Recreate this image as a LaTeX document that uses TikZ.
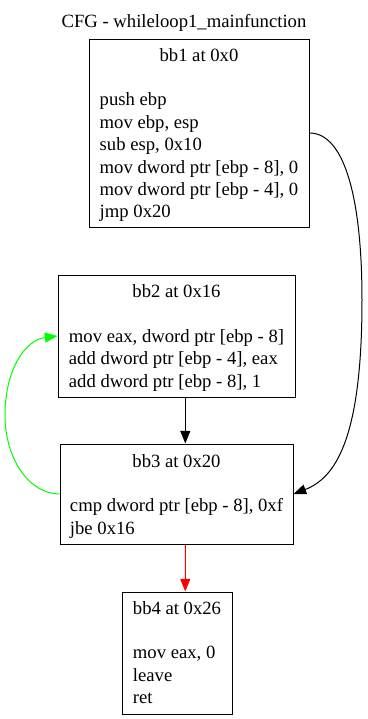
\documentclass[tikz,border=0pt]{standalone}
\usepackage{fontspec}
\setmainfont{Liberation Serif}
\usetikzlibrary{arrows.meta}
\begin{document}
\begin{tikzpicture}[x=0.75pt,y=-0.75pt,
  block/.style={draw=black, line width=0.75pt, rectangle, inner sep=0pt},
  blocktext/.style={anchor=base, inner sep=0pt, font=\fontsize{14}{16.8}\selectfont},
  edge/.style={line width=0.75pt, -{Triangle[length=9.5pt,width=7.5pt]}}]
\useasboundingbox (0,0) rectangle (368,719);

% graph title
\node[blocktext] (title) at (184,27) {CFG - whileloop1\_mainfunction};

% basic blocks
\node[block, minimum width=165pt, minimum height=141pt] (bb1) at (199,133) {};
\node[blocktext] (bb1text) at (199,61) {\begin{tabular}[t]{@{}l@{}}
  \multicolumn{1}{@{}c@{}}{bb1 at 0x0}\\ \\
  push ebp\\
  mov ebp, esp\\
  sub esp, 0x10\\
  mov dword ptr [ebp - 8], 0\\
  mov dword ptr [ebp - 4], 0\\
  jmp 0x20
\end{tabular}};

\node[block, minimum width=177.75pt, minimum height=91.5pt] (bb2) at (176.5,336) {};
\node[blocktext] (bb2text) at (176.5,297.5) {\begin{tabular}[t]{@{}l@{}}
  \multicolumn{1}{@{}c@{}}{bb2 at 0x16}\\ \\
  mov eax, dword ptr [ebp - 8]\\
  add dword ptr [ebp - 4], eax\\
  add dword ptr [ebp - 8], 1
\end{tabular}};

\node[block, minimum width=174.75pt, minimum height=75pt] (bb3) at (176.5,494) {};
\node[blocktext] (bb3text) at (176.5,467) {\begin{tabular}[t]{@{}l@{}}
  \multicolumn{1}{@{}c@{}}{bb3 at 0x20}\\ \\
  cmp dword ptr [ebp - 8], 0xf\\
  jbe 0x16
\end{tabular}};

\node[block, minimum width=82.5pt, minimum height=91.5pt] (bb4) at (177,653) {};
\node[blocktext] (bb4text) at (177,614) {\begin{tabular}[t]{@{}l@{}}
  \multicolumn{1}{@{}c@{}}{bb4 at 0x26}\\ \\
  mov eax, 0\\
  leave\\
  ret
\end{tabular}};

% control flow edges
\draw[edge] (bb1.east) .. controls (345,133) and (362,200) .. (362,300)
  .. controls (362,440) and (335,478) .. (bb3.east);
\draw[edge] ([xshift=6.6pt]bb2.south) -- ([xshift=6.6pt]bb3.north);
\draw[edge, green] (bb3.west) .. controls (30,494) and (5,460) .. (5,415)
  .. controls (5,370) and (25,340) .. (bb2.west);
\draw[edge, red] ([xshift=6.6pt]bb3.south) -- ([xshift=6.2pt]bb4.north);
\end{tikzpicture}
\end{document}
